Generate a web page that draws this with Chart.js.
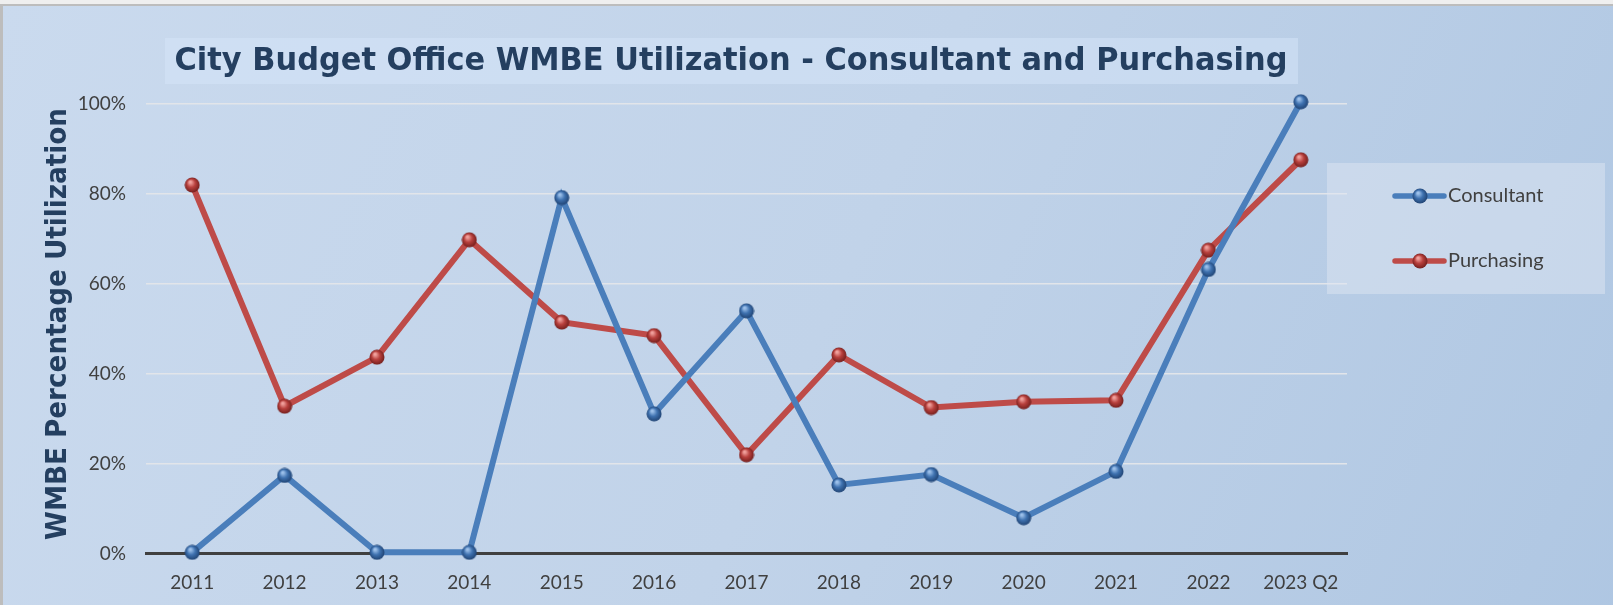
<!DOCTYPE html>
<html>
<head>
<meta charset="utf-8">
<script src="https://cdn.jsdelivr.net/npm/chart.js@4/dist/chart.umd.min.js"></script>
<style>
  html, body { margin: 0; padding: 0; background: #c8d8ec; }
  #wrap { width: 1613px; height: 605px; }
</style>
</head>
<body>
<div id="wrap"><canvas id="wmbeChart" width="1613" height="605"></canvas></div>
<script>
// data
const categories = ['2011', '2012', '2013', '2014', '2015', '2016', '2017', '2018', '2019', '2020', '2021', '2022', '2023 Q2'];
const consultant = [0.3, 17.4, 0.3, 0.3, 79.2, 31.1, 54.0, 15.3, 17.6, 8.0, 18.3, 63.2, 100.5];
const purchasing = [82.0, 32.8, 43.7, 69.8, 51.5, 48.5, 22.0, 44.2, 32.5, 33.8, 34.1, 67.5, 87.6];
const yTicks = [0, 20, 40, 60, 80, 100];

const TITLE = 'City Budget Office WMBE Utilization - Consultant and Purchasing';
const Y_TITLE = 'WMBE Percentage Utilization';
const BLUE = '#4a7ebb';
const RED = '#be4b48';
const NAVY = '#243f60';

// little shaded ball for the markers (excel "3d" style)
function makeBall(base, light, dark) {
    const c = document.createElement('canvas');
    c.width = 16; c.height = 16;
    const g = c.getContext('2d');
    const grad = g.createRadialGradient(6, 5, 1, 8, 8, 8);
    grad.addColorStop(0, light);
    grad.addColorStop(0.45, base);
    grad.addColorStop(1, dark);
    g.fillStyle = grad;
    g.beginPath();
    g.arc(8, 8, 7.5, 0, Math.PI * 2);
    g.fill();
    return c;
}
const blueBall = makeBall('#3f72b0', '#9cc0ea', '#1d3f6e');
const redBall = makeBall('#b8403d', '#f0a09c', '#6e1c1a');

// bold text squeezed to a given length (tahoma-ish look)
function fitText(ctx, text, x, y, len, size, rot) {
    ctx.save();
    ctx.font = 'bold ' + size + 'px "DejaVu Sans"';
    const w = ctx.measureText(text).width;
    ctx.translate(x, y);
    if (rot) ctx.rotate(rot);
    ctx.scale(len / w, 1);
    ctx.fillStyle = NAVY;
    ctx.textAlign = 'center';
    ctx.textBaseline = 'middle';
    ctx.fillText(text, 0, 0);
    ctx.restore();
}

const bgPlugin = {
    id: 'bgPlugin',
    beforeDraw(chart) {
        const { ctx, width, height } = chart;
        ctx.save();
        const g = ctx.createLinearGradient(0, 0, width, height * 1.2);
        g.addColorStop(0, '#cadaee');
        g.addColorStop(0.5, '#c1d3e9');
        g.addColorStop(1, '#aec6e2');
        ctx.fillStyle = g;
        ctx.fillRect(0, 0, width, height);
        // frame on top / left
        ctx.fillStyle = '#efefef';
        ctx.fillRect(0, 0, width, 4);
        ctx.fillStyle = '#bdbdbd';
        ctx.fillRect(0, 4, width, 2);
        ctx.fillRect(0, 4, 3, height);
        // title band
        ctx.fillStyle = 'rgba(214,230,250,0.5)';
        ctx.fillRect(165, 38, 1133, 46);
        ctx.restore();
    },
    afterDraw(chart) {
        const { ctx } = chart;
        fitText(ctx, TITLE, 731, 62, 1113, 32, 0);
        fitText(ctx, Y_TITLE, 58, 324, 432, 29, -Math.PI / 2);

        ctx.save();
        // legend box
        ctx.fillStyle = 'rgba(222,230,242,0.5)';
        ctx.fillRect(1327, 163, 278, 131);
        const rows = [196, 261];
        const balls = [blueBall, redBall];
        chart.data.datasets.forEach((ds, i) => {
            const y = rows[i];
            ctx.strokeStyle = ds.borderColor;
            ctx.lineWidth = 5.5;
            ctx.lineCap = 'round';
            ctx.beginPath();
            ctx.moveTo(1395, y);
            ctx.lineTo(1444, y);
            ctx.stroke();
            ctx.drawImage(balls[i], 1412, y - 8);
            ctx.fillStyle = '#404040';
            ctx.font = '20px Lato';
            ctx.textAlign = 'left';
            ctx.textBaseline = 'middle';
            ctx.fillText(ds.label, 1448, y);
        });
        ctx.restore();
    }
};

new Chart(document.getElementById('wmbeChart'), {
    type: 'line',
    data: {
        labels: categories,
        datasets: [
            {
                label: 'Consultant',
                data: consultant,
                borderColor: BLUE,
                backgroundColor: BLUE,
                borderWidth: 6,
                pointStyle: blueBall,
                pointRadius: 8,
                tension: 0,
                clip: false
            },
            {
                label: 'Purchasing',
                data: purchasing,
                borderColor: RED,
                backgroundColor: RED,
                borderWidth: 6,
                pointStyle: redBall,
                pointRadius: 8,
                tension: 0,
                clip: false
            }
        ]
    },
    options: {
        responsive: false,
        animation: false,
        layout: { padding: { top: 104, right: 266, bottom: 0, left: 0 } },
        plugins: {
            legend: { display: false },
            title: { display: false },
            tooltip: { enabled: false }
        },
        scales: {
            x: {
                offset: true,
                grid: { display: false, drawTicks: false },
                border: { display: true, color: '#404040', width: 3 },
                ticks: { color: '#404040', font: { family: 'Lato', size: 19 }, padding: 18, maxRotation: 0, autoSkip: false },
                afterFit(scale) { scale.height = 51.3; }
            },
            y: {
                min: 0,
                max: 100,
                afterBuildTicks(scale) { scale.ticks = yTicks.map(v => ({ value: v })); },
                grid: {
                    drawTicks: false,
                    color: ctx => ctx.tick && ctx.tick.value === 0 ? 'rgba(0,0,0,0)' : '#e2e5ea',
                    lineWidth: 1.5
                },
                border: { display: false },
                ticks: {
                    color: '#404040',
                    font: { family: 'Lato', size: 19 },
                    padding: 20,
                    callback: v => v + '%'
                },
                afterFit(scale) { scale.width = 146; }
            }
        }
    },
    plugins: [bgPlugin]
});
</script>
</body>
</html>
